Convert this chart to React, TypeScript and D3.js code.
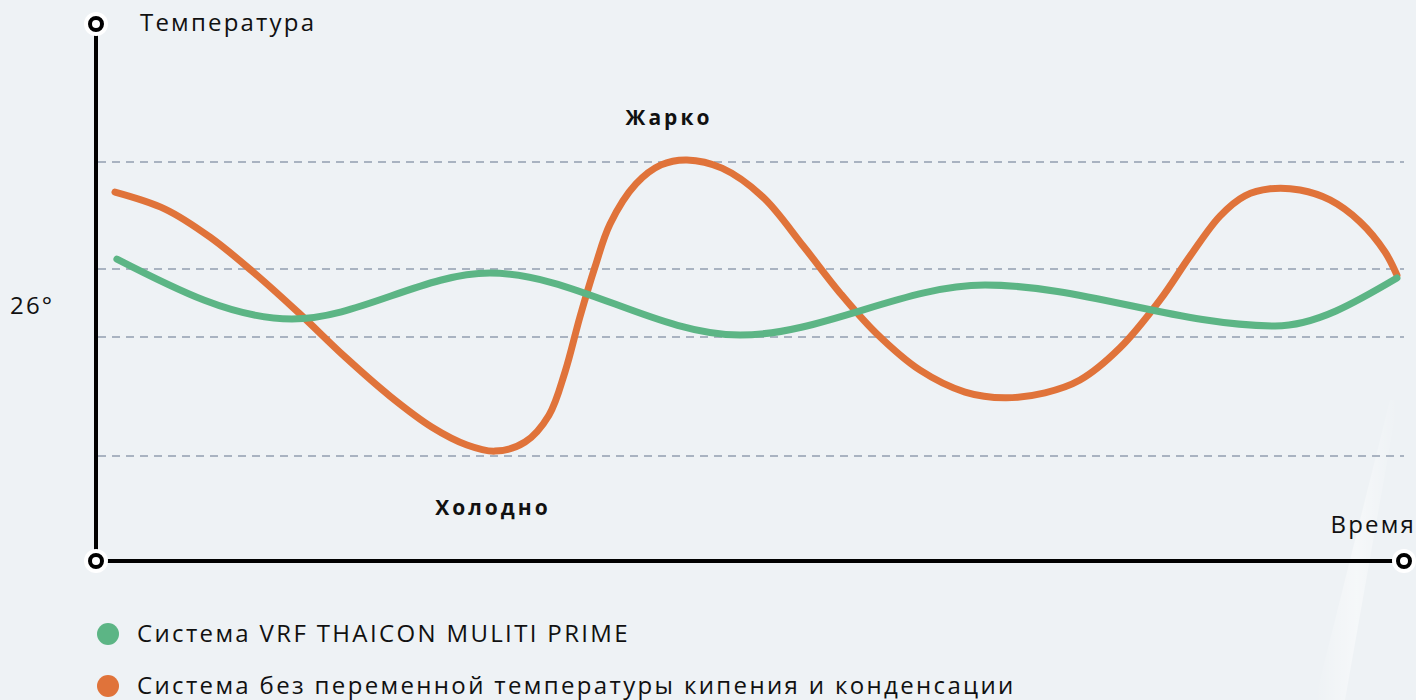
import { useRef, useEffect } from 'react'
import * as d3 from 'd3'

// time (0..100) / temperature (°C)
const greenTime = [1.6, 14.98, 30.12, 49.24, 67.97, 90.14, 99.46]
const greenTemp = [27.31, 25.86, 26.97, 25.47, 26.68, 25.69, 26.85]

const orangeTime = [
  1.45, 5.28, 8.72, 12.0, 15.52, 19.04, 22.48, 25.69, 28.36, 30.5, 32.8, 34.63, 35.86, 37.0, 38.15, 39.3,
  41.28, 43.2, 45.18, 47.86, 50.99, 54.13, 56.88, 59.63, 63.0, 66.44, 69.5, 72.55, 75.23, 78.29,
  81.35, 83.64, 85.93, 87.84, 89.76, 92.05, 94.34, 96.64, 98.55, 99.46,
]
const orangeTemp = [
  28.93, 28.52, 27.84, 27.0, 26.0, 24.94, 23.99, 23.24, 22.81, 22.66, 22.88, 23.53, 24.58, 25.91, 27.12, 28.16,
  29.13, 29.59, 29.71, 29.51, 28.81, 27.6, 26.49, 25.52, 24.62, 24.09, 23.95, 24.07, 24.38, 25.16,
  26.32, 27.38, 28.35, 28.84, 29.01, 28.98, 28.74, 28.21, 27.48, 26.92,
]

const gridTemps = [29.66, 27.07, 25.42, 22.54]

const legendLabels = [
  'Система VRF THAICON MULITI PRIME',
  'Система без переменной температуры кипения и конденсации',
]
const legendColors = ['#5cb585', '#e0733a']

const W = 1416
const H = 700
const FONT = '"Open Sans", "Noto Sans", sans-serif'

export default function App() {
  const ref = useRef<SVGSVGElement>(null)

  useEffect(() => {
    if (!ref.current) return
    const svg = d3.select(ref.current)
    svg.selectAll('*').remove()

    const x0 = 96
    const x1 = 1404
    const yTop = 24
    const yBot = 561

    const x = d3.scaleLinear().domain([0, 100]).range([x0, x1])
    const y = d3.scaleLinear().domain([20, 33]).range([yBot, yTop])

    // background
    const defs = svg.append('defs')
    const grad = defs
      .append('linearGradient')
      .attr('id', 'streak')
      .attr('x1', '0')
      .attr('y1', '0')
      .attr('x2', '1')
      .attr('y2', '0')
    grad.append('stop').attr('offset', '0').attr('stop-color', '#ffffff').attr('stop-opacity', 0)
    grad.append('stop').attr('offset', '0.5').attr('stop-color', '#ffffff').attr('stop-opacity', 0.45)
    grad.append('stop').attr('offset', '1').attr('stop-color', '#ffffff').attr('stop-opacity', 0)

    svg.append('rect').attr('width', W).attr('height', H).attr('fill', '#eef2f5')
    svg
      .append('path')
      .attr('d', 'M1390,400 L1398,400 L1345,700 L1315,700 Z')
      .attr('fill', 'url(#streak)')

    // grid
    svg
      .append('g')
      .selectAll('line')
      .data(gridTemps)
      .enter()
      .append('line')
      .attr('x1', x0 + 2)
      .attr('x2', x1)
      .attr('y1', d => y(d))
      .attr('y2', d => y(d))
      .attr('stroke', '#a9b3c1')
      .attr('stroke-width', 2)
      .attr('stroke-dasharray', '8 6')

    // axes
    svg
      .append('path')
      .attr('d', `M${x0},${yTop} L${x0},${yBot} L${x1},${yBot}`)
      .attr('fill', 'none')
      .attr('stroke', '#000')
      .attr('stroke-width', 4)

    const ends = [
      [x0, yTop],
      [x0, yBot],
      [x1, yBot],
    ]
    const endG = svg.append('g')
    endG
      .selectAll('circle.halo')
      .data(ends)
      .enter()
      .append('circle')
      .attr('class', 'halo')
      .attr('cx', d => d[0])
      .attr('cy', d => d[1])
      .attr('r', 12)
      .attr('fill', '#ffffff')
    endG
      .selectAll('circle.dot')
      .data(ends)
      .enter()
      .append('circle')
      .attr('class', 'dot')
      .attr('cx', d => d[0])
      .attr('cy', d => d[1])
      .attr('r', 6)
      .attr('fill', '#ffffff')
      .attr('stroke', '#000')
      .attr('stroke-width', 4)

    // lines
    const series = [
      { t: orangeTime, v: orangeTemp, color: legendColors[1], curve: d3.curveCatmullRom.alpha(0.5) },
      { t: greenTime, v: greenTemp, color: legendColors[0], curve: d3.curveMonotoneX },
    ]
    series.forEach(s => {
      const pts = s.t.map((t, i) => [t, s.v[i]] as [number, number])
      const line = d3
        .line<[number, number]>()
        .x(d => x(d[0]))
        .y(d => y(d[1]))
        .curve(s.curve)
      svg
        .append('path')
        .attr('d', line(pts))
        .attr('fill', 'none')
        .attr('stroke', s.color)
        .attr('stroke-width', 7)
        .attr('stroke-linecap', 'round')
        .attr('stroke-linejoin', 'round')
    })

    // texts
    const txt = (s: string, tx: number, ty: number, size: number, weight = 400, anchor = 'start', ls = 2.2) =>
      svg
        .append('text')
        .attr('x', tx)
        .attr('y', ty)
        .attr('font-family', FONT)
        .attr('font-size', size)
        .attr('font-weight', weight)
        .attr('letter-spacing', ls)
        .attr('text-anchor', anchor)
        .attr('fill', '#111')
        .text(s)

    txt('Температура', 140, 31, 24)
    txt('26°', 10, 314, 24)
    txt('Время', 1416, 533, 24, 400, 'end')
    txt('Жарко', 669, 125, 21, 700, 'middle', 3)
    txt('Холодно', 493, 515, 21, 700, 'middle', 3)

    // legend
    const lg = svg.append('g')
    legendLabels.forEach((label, i) => {
      const cy = 634 + i * 52
      lg.append('circle').attr('cx', 108).attr('cy', cy).attr('r', 11).attr('fill', legendColors[i])
      lg.append('text')
        .attr('x', 137)
        .attr('y', cy + 8)
        .attr('font-family', FONT)
        .attr('font-size', 24)
        .attr('letter-spacing', 2.35)
        .attr('fill', '#111')
        .text(label)
    })
  }, [])

  return (
    <svg
      ref={ref}
      width={W}
      height={H}
      style={{ position: 'absolute', left: 0, top: 0, display: 'block' }}
    />
  )
}
